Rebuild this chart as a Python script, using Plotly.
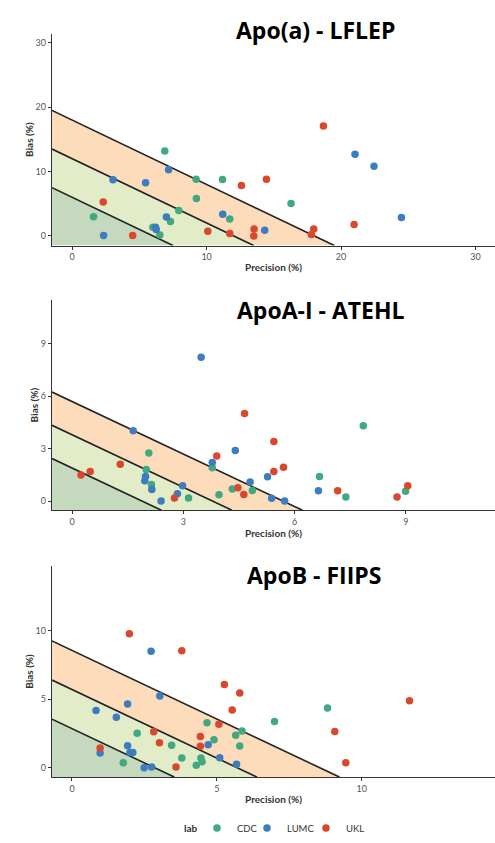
import plotly.graph_objects as go

W, H = 495, 843

# ---------------- data ----------------
labs = ["CDC", "LUMC", "UKL"]
lab_colors = {"CDC": "#40a97f", "LUMC": "#3d7cc0", "UKL": "#d9472c"}

titles = ["Apo(a) - LFLEP", "ApoA-I - ATEHL", "ApoB - FIIPS"]
limits = [[6, 12, 18], [1.9, 3.8, 5.7], [2.85, 5.7, 8.55]]
tickvals = [[0, 10, 20, 30], [0, 3, 6, 9], [0, 5, 10]]

# Apo(a)
p1_CDC_x = [1.59, 6.89, 9.22, 9.24, 7.93, 7.31, 6.52, 11.18, 11.72, 16.28, 6.0]
p1_CDC_y = [2.99, 13.2, 8.81, 5.82, 3.95, 2.25, 0.15, 8.78, 2.63, 5.05, 1.35]
p1_LUMC_x = [3.04, 5.46, 7.17, 7.01, 6.2, 6.25, 2.34, 11.2, 14.32, 21.04, 22.45, 24.49]
p1_LUMC_y = [8.71, 8.25, 10.28, 2.94, 1.35, 1.0, 0.05, 3.35, 0.88, 12.68, 10.82, 2.84]
p1_UKL_x = [2.31, 4.5, 10.09, 11.72, 13.53, 13.51, 12.59, 14.45, 18.69, 20.97, 17.97, 17.79]
p1_UKL_y = [5.25, 0.05, 0.72, 0.36, 1.08, 0.0, 7.84, 8.81, 17.06, 1.75, 1.08, 0.2]

# ApoA-I
p2_CDC_x = [2.07, 2.0, 2.14, 3.78, 3.14, 3.96, 4.32, 4.86, 6.67, 7.38, 7.85, 8.99]
p2_CDC_y = [2.76, 1.82, 0.96, 1.92, 0.19, 0.38, 0.7, 0.62, 1.42, 0.24, 4.32, 0.57]
p2_LUMC_x = [3.48, 1.65, 1.96, 1.98, 2.15, 2.4, 2.84, 2.98, 3.78, 4.4, 4.8, 5.27, 5.38, 5.73, 6.64]
p2_LUMC_y = [8.22, 4.03, 1.17, 1.42, 0.67, 0.02, 0.43, 0.89, 2.22, 2.9, 1.11, 1.41, 0.17, 0.02, 0.6]
p2_UKL_x = [0.24, 0.49, 1.3, 3.9, 4.65, 5.44, 5.44, 5.7, 4.47, 4.63, 2.76, 7.16, 8.76, 9.05]
p2_UKL_y = [1.5, 1.7, 2.12, 2.59, 5.02, 3.41, 1.7, 1.95, 0.78, 0.39, 0.19, 0.6, 0.24, 0.89]

# ApoB
p3_CDC_x = [1.77, 2.25, 3.44, 3.79, 4.29, 4.45, 4.49, 4.66, 4.9, 5.65, 5.87, 5.79, 6.99, 8.82]
p3_CDC_y = [0.36, 2.52, 1.63, 0.7, 0.18, 0.71, 0.44, 3.27, 2.03, 2.36, 2.68, 1.58, 3.37, 4.35]
p3_LUMC_x = [2.73, 3.03, 1.92, 0.83, 1.53, 1.92, 2.0, 2.1, 0.97, 2.49, 2.75, 4.7, 5.1, 5.68]
p3_LUMC_y = [8.48, 5.22, 4.65, 4.17, 3.68, 1.6, 1.1, 1.1, 1.07, 0.0, 0.05, 1.67, 0.73, 0.25]
p3_UKL_x = [1.98, 3.79, 5.26, 5.79, 5.53, 5.07, 4.43, 4.43, 2.82, 3.02, 3.59, 0.97, 11.65, 9.07, 9.45]
p3_UKL_y = [9.75, 8.52, 6.06, 5.45, 4.2, 3.17, 2.28, 1.56, 2.62, 1.82, 0.05, 1.43, 4.88, 2.64, 0.37]

panels = [
    {"CDC": (p1_CDC_x, p1_CDC_y), "LUMC": (p1_LUMC_x, p1_LUMC_y), "UKL": (p1_UKL_x, p1_UKL_y)},
    {"CDC": (p2_CDC_x, p2_CDC_y), "LUMC": (p2_LUMC_x, p2_LUMC_y), "UKL": (p2_UKL_x, p2_UKL_y)},
    {"CDC": (p3_CDC_x, p3_CDC_y), "LUMC": (p3_LUMC_x, p3_LUMC_y), "UKL": (p3_UKL_x, p3_UKL_y)},
]

# ---------------- layout geometry ----------------
x_ranges = [[-1.5, 31.45], [-0.54, 11.4], [-0.69, 14.6]]
y_ranges = [[-1.5, 31.4], [-0.51, 11.5], [-0.68, 14.7]]
rows_px = [(34, 247), (301.7, 513.3), (569.3, 781.7)]
left_px = 52
title_pos = [(315, 30), (321, 312), (314, 578)]
legend_names = {"CDC": "legend", "LUMC": "legend2", "UKL": "legend3"}
legend_x_px = {"CDC": 197, "LUMC": 247, "UKL": 306}

fills = ["rgba(196,217,189,1)", "rgba(226,236,201,1)", "rgba(252,220,187,1)"]
line_col = "#222222"
axis_col = "#333333"

fig = go.Figure()
layout = {}

for i in range(3):
    sfx = "" if i == 0 else str(i + 1)
    xa, ya = "x" + sfx, "y" + sfx
    xmin, ymin = x_ranges[i][0], y_ranges[i][0]
    c1, c2, c3 = limits[i]
    zones = [
        ([xmin, xmin, c1 - ymin, xmin], [ymin, c1 - xmin, ymin, ymin]),
        ([xmin, xmin, c2 - ymin, c1 - ymin, xmin], [c1 - xmin, c2 - xmin, ymin, ymin, c1 - xmin]),
        ([xmin, xmin, c3 - ymin, c2 - ymin, xmin], [c2 - xmin, c3 - xmin, ymin, ymin, c2 - xmin]),
    ]
    for (zx, zy), fc in zip(zones, fills):
        fig.add_trace(go.Scatter(x=zx, y=zy, mode="lines", fill="toself", fillcolor=fc,
                                 line=dict(width=0), hoverinfo="skip", showlegend=False,
                                 xaxis=xa, yaxis=ya))
    for c in limits[i]:
        fig.add_trace(go.Scatter(x=[xmin, c - ymin], y=[c - xmin, ymin], mode="lines",
                                 line=dict(color=line_col, width=1.6), hoverinfo="skip",
                                 showlegend=False, xaxis=xa, yaxis=ya))
    for lab in labs:
        px, py = panels[i][lab]
        fig.add_trace(go.Scatter(x=px, y=py, mode="markers", name=lab,
                                 marker=dict(color=lab_colors[lab], size=7.5),
                                 showlegend=(i == 0), legendgroup=lab,
                                 legend=legend_names[lab],
                                 xaxis=xa, yaxis=ya))

    top, bot = rows_px[i]
    layout["xaxis" + sfx] = dict(
        domain=[left_px / W, 1.0], range=x_ranges[i], anchor=ya,
        tickvals=tickvals[i], ticks="outside", ticklen=3, tickcolor=axis_col,
        showline=True, linecolor=axis_col, linewidth=1.3, showgrid=False, zeroline=False,
        tickfont=dict(size=9, color="#555555", family="Lato"),
        title=dict(text="<b>Precision (%)</b>", font=dict(size=10, color="#333333", family="Lato"),
                   standoff=2),
    )
    layout["yaxis" + sfx] = dict(
        domain=[1 - bot / H, 1 - top / H], range=y_ranges[i], anchor=xa,
        tickvals=tickvals[i], ticks="outside", ticklen=3, tickcolor=axis_col,
        showline=True, linecolor=axis_col, linewidth=1.3, showgrid=False, zeroline=False,
        tickfont=dict(size=9, color="#555555", family="Lato"),
        title=dict(text="<b>Bias (%)</b>", font=dict(size=10, color="#333333", family="Lato"),
                   standoff=0),
    )

annotations = []
for t, (tx, ty) in zip(titles, title_pos):
    annotations.append(dict(text="<b>" + t + "</b>", x=tx / W, y=1 - ty / H, xref="paper", yref="paper",
                            xanchor="center", yanchor="middle", showarrow=False,
                            font=dict(size=23, color="#000000", family="Open Sans"),
                            bgcolor="white"))
annotations.append(dict(text="<b>lab</b>", x=191 / W, y=1 - 833 / H, xref="paper", yref="paper",
                        xanchor="center", yanchor="middle", showarrow=False,
                        font=dict(size=10, color="#333333", family="Lato")))

for lab in labs:
    layout[legend_names[lab]] = dict(
        orientation="h", x=legend_x_px[lab] / W, xanchor="left", y=1 - 833 / H, yanchor="middle",
        font=dict(size=9.5, color="#333333", family="Lato"), itemwidth=30,
        bgcolor="rgba(0,0,0,0)")

fig.update_layout(
    width=W, height=H, margin=dict(l=0, r=0, t=0, b=0),
    paper_bgcolor="white", plot_bgcolor="white",
    annotations=annotations,
    **layout,
)

fig.write_html("out.html")
